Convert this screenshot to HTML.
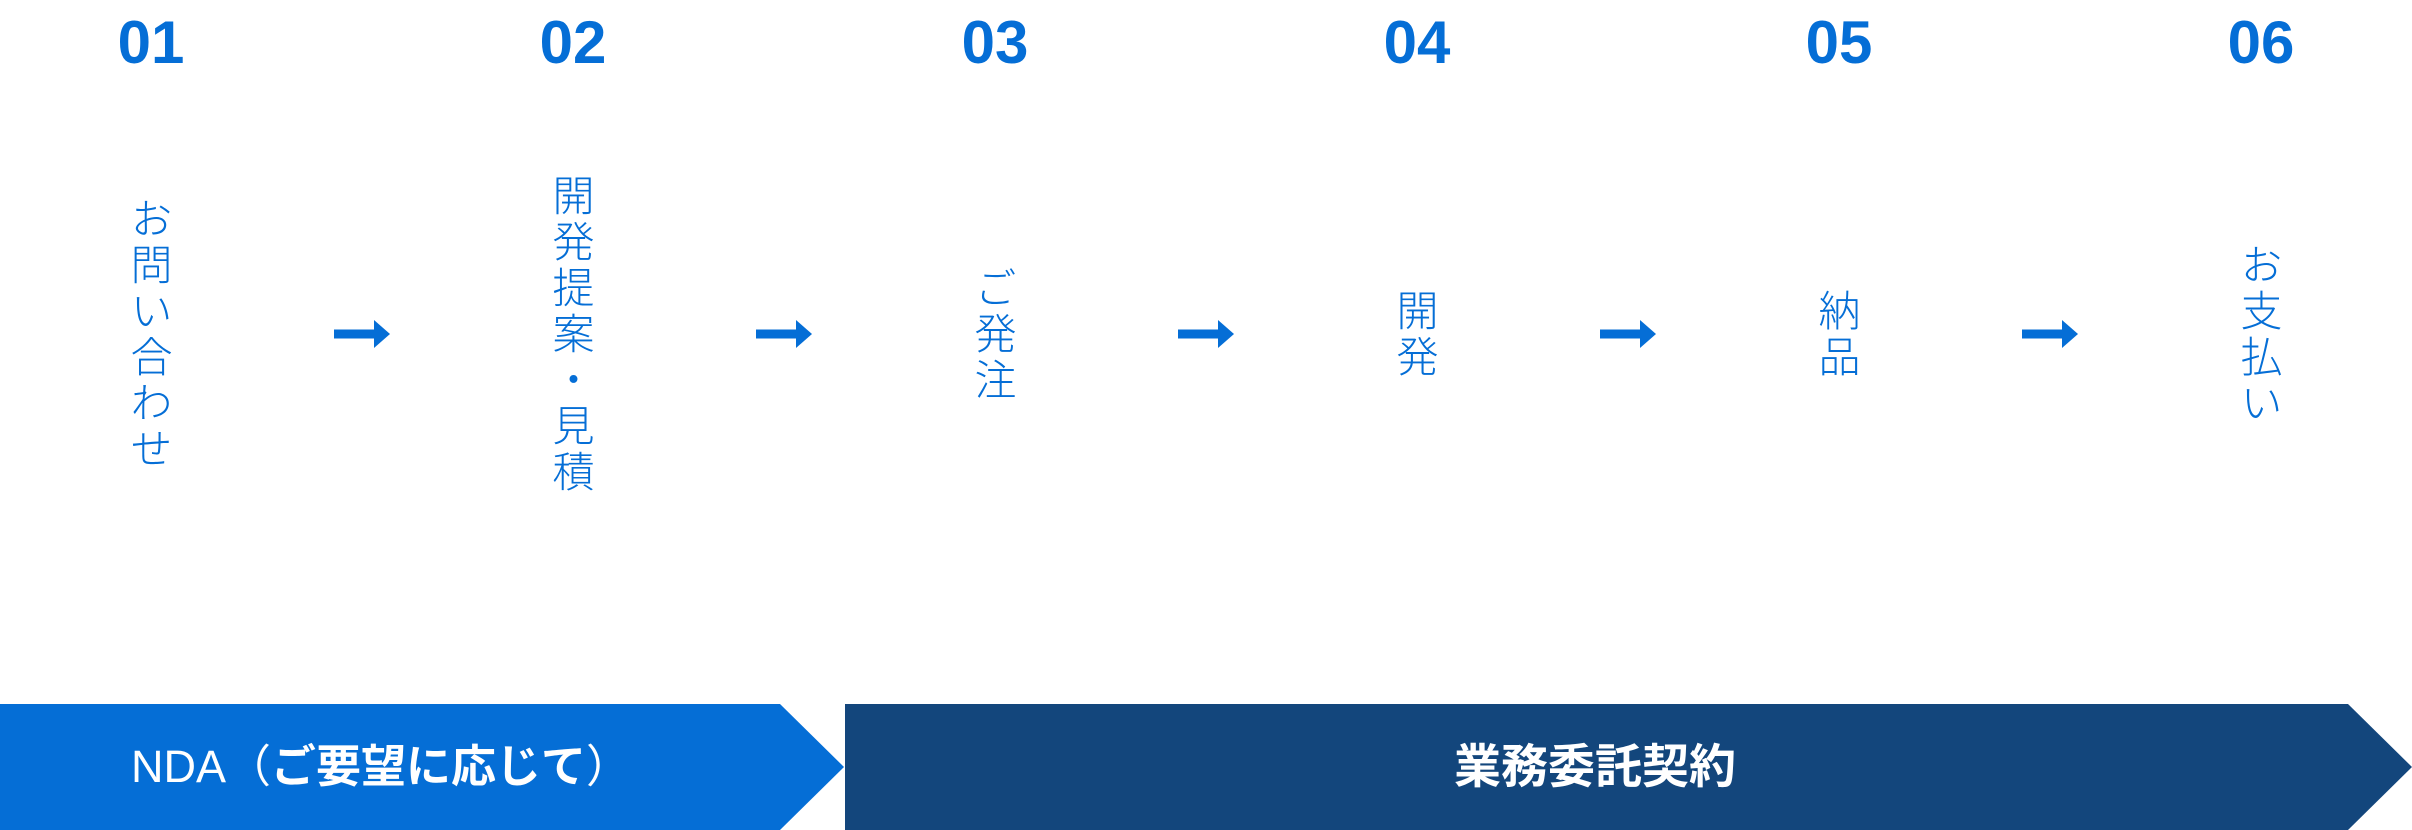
<!DOCTYPE html>
<html><head><meta charset="utf-8"><style>
html,body{margin:0;padding:0;background:#fff;}
body{width:2412px;height:830px;position:relative;overflow:hidden;font-family:"Liberation Sans","Noto Sans CJK JP",sans-serif;}
.num{position:absolute;top:10px;width:200px;margin-left:-100px;text-align:center;font-weight:bold;font-size:60px;color:#056ed6;line-height:66px;}
.v{position:absolute;top:335px;writing-mode:vertical-rl;font-size:42px;line-height:42px;letter-spacing:4px;color:#056ed6;transform:translate(-50%,-50%);white-space:nowrap;font-family:"Noto Sans CJK JP",sans-serif;font-weight:300;}
.lbl{position:absolute;top:704px;height:126px;line-height:126px;color:#fff;text-align:center;white-space:nowrap;}
</style></head><body>
<div class="num" style="left:151px">01</div>
<div class="num" style="left:573px">02</div>
<div class="num" style="left:995px">03</div>
<div class="num" style="left:1417px">04</div>
<div class="num" style="left:1839px">05</div>
<div class="num" style="left:2261px">06</div>

<div class="v" style="left:151px">お問い合わせ</div>
<div class="v" style="left:573px">開発提案・見積</div>
<div class="v" style="left:995px">ご発注</div>
<div class="v" style="left:1417px">開発</div>
<div class="v" style="left:1839px">納品</div>
<div class="v" style="left:2261px">お支払い</div>

<svg width="2412" height="830" style="position:absolute;left:0;top:0">
<g fill="#056ed6">
<g transform="translate(334,334)"><rect x="0" y="-4.5" width="42" height="9"/><polygon points="40,-14 56,0 40,14"/></g>
<g transform="translate(756,334)"><rect x="0" y="-4.5" width="42" height="9"/><polygon points="40,-14 56,0 40,14"/></g>
<g transform="translate(1178,334)"><rect x="0" y="-4.5" width="42" height="9"/><polygon points="40,-14 56,0 40,14"/></g>
<g transform="translate(1600,334)"><rect x="0" y="-4.5" width="42" height="9"/><polygon points="40,-14 56,0 40,14"/></g>
<g transform="translate(2022,334)"><rect x="0" y="-4.5" width="42" height="9"/><polygon points="40,-14 56,0 40,14"/></g>
</g>
<polygon points="0,704 780,704 844,767 780,830 0,830" fill="#056ed6"/>
<polygon points="845,704 2348,704 2412,767 2348,830 845,830" fill="#13467c"/>
</svg>
<div class="lbl" style="left:0;width:762px;font-size:45px">NDA（<b>ご要望に応じて</b>）</div>
<div class="lbl" style="left:845px;width:1500px;font-weight:bold;font-size:47px">業務委託契約</div>
</body></html>
